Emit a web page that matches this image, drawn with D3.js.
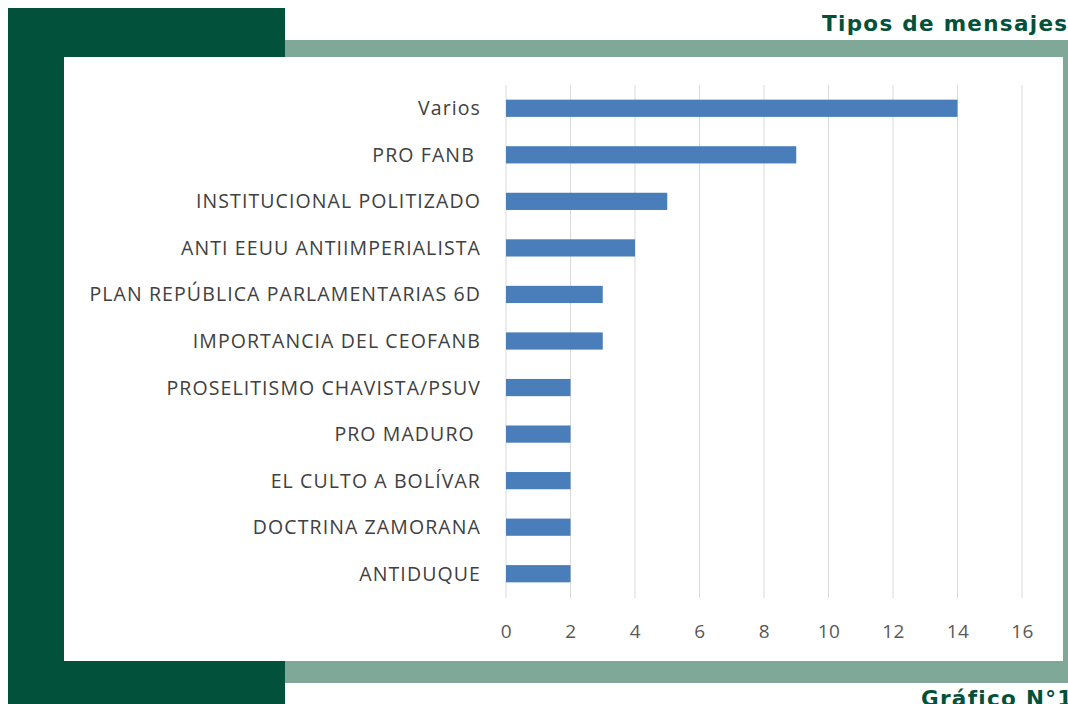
<!DOCTYPE html>
<meta charset="utf-8">
<style>
body { margin: 0; background: #fff; }
svg { display: block; }
.axis path, .axis line { display: none; }
.axis text { font: 19px "Open Sans", sans-serif; fill: #595959; letter-spacing: 0.5px; }
.cat { font: 19.5px "Open Sans", sans-serif; fill: #404040; letter-spacing: 1.1px; }
.grid line { stroke: #d9d9d9; stroke-width: 1; }
.bar { fill: #4a7ebb; }
.head { font: bold 21.5px "DejaVu Sans", sans-serif; fill: #02513a; letter-spacing: 1.3px; }
</style>
<body>
<svg width="1068" height="704"></svg>
<script src="https://d3js.org/d3.v7.min.js"></script>
<script>
// data
var categories = ["Varios", "PRO FANB ", "INSTITUCIONAL POLITIZADO", "ANTI EEUU ANTIIMPERIALISTA",
  "PLAN REPÚBLICA PARLAMENTARIAS 6D", "IMPORTANCIA DEL CEOFANB", "PROSELITISMO CHAVISTA/PSUV",
  "PRO MADURO ", "EL CULTO A BOLÍVAR", "DOCTRINA ZAMORANA", "ANTIDUQUE"];
var values = [14, 9, 5, 4, 3, 3, 2, 2, 2, 2, 2];
var ticks = [0, 2, 4, 6, 8, 10, 12, 14, 16];

var svg = d3.select("svg");

// frame decoration
svg.append("rect").attr("x", 285).attr("y", 40).attr("width", 783).attr("height", 643).attr("fill", "#7fa898");
svg.append("rect").attr("x", 8).attr("y", 8).attr("width", 277).attr("height", 696).attr("fill", "#02513a");
svg.append("rect").attr("x", 64).attr("y", 57).attr("width", 999).attr("height", 604).attr("fill", "#fff");

svg.append("text")
    .attr("class", "head")
    .attr("x", 822).attr("y", 31)
    .text("Tipos de mensajes");

svg.append("text")
    .attr("class", "head")
    .attr("x", 921).attr("y", 706)
    .text("Gráfico N°1");

var x = d3.scaleLinear().domain([0, 16]).range([506, 1022]);
var y = d3.scaleBand().domain(categories).range([85, 597]).paddingInner(0.63).paddingOuter(0.315);

var grid = svg.append("g").attr("class", "grid");
grid.selectAll("line")
  .data(ticks)
  .enter().append("line")
    .attr("x1", function(d) { return x(d); })
    .attr("x2", function(d) { return x(d); })
    .attr("y1", 85)
    .attr("y2", 598);

svg.selectAll(".bar")
  .data(values)
  .enter().append("rect")
    .attr("class", "bar")
    .attr("x", x(0))
    .attr("y", function(d, i) { return y(categories[i]); })
    .attr("width", function(d) { return x(d) - x(0); })
    .attr("height", y.bandwidth());

svg.selectAll(".cat")
  .data(categories)
  .enter().append("text")
    .attr("class", "cat")
    .attr("x", 481)
    .attr("y", function(d) { return y(d) + y.bandwidth() / 2; })
    .attr("dy", "0.36em")
    .attr("text-anchor", "end")
    .style("white-space", "pre")
    .text(function(d) { return d; });

svg.append("g")
    .attr("class", "axis")
    .attr("transform", "translate(0,618)")
    .call(d3.axisBottom(x).tickValues(ticks).tickSize(0).tickPadding(7));
</script>
</body>
